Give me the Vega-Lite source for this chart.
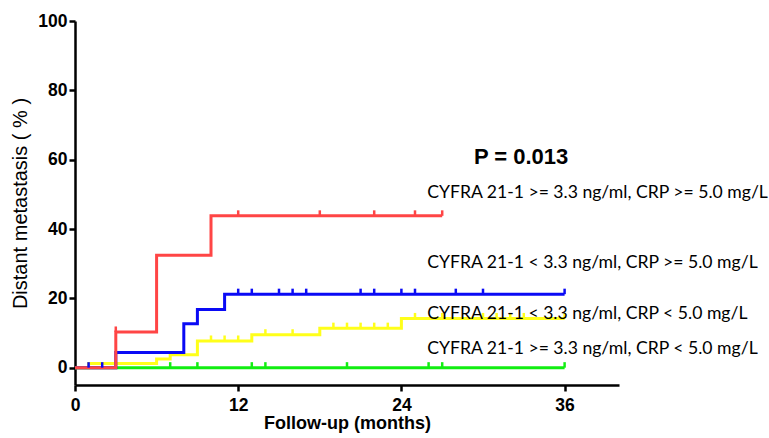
{
  "$schema": "https://vega.github.io/schema/vega-lite/v6.json",
  "width": 544,
  "height": 364,
  "autosize": {"type": "none"},
  "padding": {"left": 75, "top": 21, "right": 150, "bottom": 53},
  "background": "white",
  "config": {
    "view": {"stroke": null},
    "axis": {
      "grid": false,
      "domainColor": "black",
      "domainWidth": 2.5,
      "tickColor": "black",
      "tickWidth": 2.5,
      "tickSize": 6,
      "labelFont": "Liberation Sans",
      "labelFontWeight": "bold",
      "labelFontSize": 17.5,
      "labelColor": "black",
      "titleFont": "Liberation Sans",
      "titleColor": "black"
    }
  },
  "datasets": {
    "curves": [
      {"group": "yellow", "month": 0, "pct": 0},
      {"group": "yellow", "month": 1, "pct": 1.2},
      {"group": "yellow", "month": 6, "pct": 2.5},
      {"group": "yellow", "month": 7, "pct": 3.7},
      {"group": "yellow", "month": 9, "pct": 7.7},
      {"group": "yellow", "month": 13, "pct": 9.5},
      {"group": "yellow", "month": 18, "pct": 11.4},
      {"group": "yellow", "month": 24, "pct": 14.2},
      {"group": "yellow", "month": 36, "pct": 14.2},
      {"group": "green", "month": 0, "pct": 0},
      {"group": "green", "month": 36, "pct": 0},
      {"group": "blue", "month": 0, "pct": 0},
      {"group": "blue", "month": 3, "pct": 4.4},
      {"group": "blue", "month": 8, "pct": 12.7},
      {"group": "blue", "month": 9, "pct": 16.8},
      {"group": "blue", "month": 11, "pct": 21.2},
      {"group": "blue", "month": 36, "pct": 21.2},
      {"group": "red", "month": 0, "pct": 0},
      {"group": "red", "month": 3, "pct": 10.3},
      {"group": "red", "month": 6, "pct": 32.4},
      {"group": "red", "month": 10, "pct": 43.8},
      {"group": "red", "month": 27, "pct": 43.8}
    ],
    "censor": [
      {"group": "yellow", "month": 10, "pct": 7.7},
      {"group": "yellow", "month": 11, "pct": 7.7},
      {"group": "yellow", "month": 12, "pct": 7.7},
      {"group": "yellow", "month": 14, "pct": 9.5},
      {"group": "yellow", "month": 16, "pct": 9.5},
      {"group": "yellow", "month": 19, "pct": 11.4},
      {"group": "yellow", "month": 20, "pct": 11.4},
      {"group": "yellow", "month": 21, "pct": 11.4},
      {"group": "yellow", "month": 22, "pct": 11.4},
      {"group": "yellow", "month": 23, "pct": 11.4},
      {"group": "yellow", "month": 25, "pct": 14.2},
      {"group": "yellow", "month": 27, "pct": 14.2},
      {"group": "yellow", "month": 30, "pct": 14.2},
      {"group": "yellow", "month": 31, "pct": 14.2},
      {"group": "yellow", "month": 32, "pct": 14.2},
      {"group": "yellow", "month": 33, "pct": 14.2},
      {"group": "yellow", "month": 36, "pct": 14.2},
      {"group": "green", "month": 7, "pct": 0},
      {"group": "green", "month": 9, "pct": 0},
      {"group": "green", "month": 13, "pct": 0},
      {"group": "green", "month": 14, "pct": 0},
      {"group": "green", "month": 20, "pct": 0},
      {"group": "green", "month": 26, "pct": 0},
      {"group": "green", "month": 27, "pct": 0},
      {"group": "green", "month": 36, "pct": 0},
      {"group": "blue", "month": 1, "pct": 0},
      {"group": "blue", "month": 2, "pct": 0},
      {"group": "blue", "month": 12, "pct": 21.2},
      {"group": "blue", "month": 13, "pct": 21.2},
      {"group": "blue", "month": 15, "pct": 21.2},
      {"group": "blue", "month": 16, "pct": 21.2},
      {"group": "blue", "month": 17, "pct": 21.2},
      {"group": "blue", "month": 21, "pct": 21.2},
      {"group": "blue", "month": 22, "pct": 21.2},
      {"group": "blue", "month": 24, "pct": 21.2},
      {"group": "blue", "month": 25, "pct": 21.2},
      {"group": "blue", "month": 28, "pct": 21.2},
      {"group": "blue", "month": 30, "pct": 21.2},
      {"group": "blue", "month": 36, "pct": 21.2},
      {"group": "red", "month": 3, "pct": 10.3},
      {"group": "red", "month": 12, "pct": 43.8},
      {"group": "red", "month": 18, "pct": 43.8},
      {"group": "red", "month": 22, "pct": 43.8},
      {"group": "red", "month": 25, "pct": 43.8},
      {"group": "red", "month": 27, "pct": 43.8}
    ],
    "labels": [
      {"month": 25.9, "pct": 50.3, "text": "CYFRA 21-1 >= 3.3 ng/ml, CRP >= 5.0 mg/L"},
      {"month": 25.9, "pct": 30.1, "text": "CYFRA 21-1 < 3.3 ng/ml, CRP >= 5.0 mg/L"},
      {"month": 25.9, "pct": 15.6, "text": "CYFRA 21-1 < 3.3 ng/ml, CRP < 5.0 mg/L"},
      {"month": 25.9, "pct": 5.5, "text": "CYFRA 21-1 >= 3.3 ng/ml, CRP < 5.0 mg/L"}
    ],
    "ptext": [
      {"month": 32.8, "pct": 60.7, "text": "P = 0.013"}
    ]
  },
  "encoding": {
    "x": {
      "field": "month", "type": "quantitative",
      "scale": {"domain": [0, 40], "nice": false, "zero": false},
      "axis": {"values": [0, 12, 24, 36], "title": "Follow-up (months)", "titleFontWeight": "bold", "titleFontSize": 18, "labelPadding": 5, "titlePadding": 1, "labelFlush": false}
    },
    "y": {
      "field": "pct", "type": "quantitative",
      "scale": {"domain": [-5, 100], "nice": false, "zero": false},
      "axis": {"values": [0, 20, 40, 60, 80, 100], "title": "Distant metastasis ( % )", "titleFontWeight": "normal", "titleFontSize": 20, "labelPadding": 2, "titlePadding": 7, "labelFlush": false}
    }
  },
  "layer": [
    {
      "data": {"name": "curves"},
      "transform": [{"filter": "datum.group === 'yellow'"}],
      "mark": {"type": "line", "interpolate": "step-after", "strokeWidth": 3, "color": "#ffff1a"}
    },
    {
      "data": {"name": "curves"},
      "transform": [{"filter": "datum.group === 'green'"}],
      "mark": {"type": "line", "interpolate": "step-after", "strokeWidth": 3, "color": "#11ee11"}
    },
    {
      "data": {"name": "curves"},
      "transform": [{"filter": "datum.group === 'blue'"}],
      "mark": {"type": "line", "interpolate": "step-after", "strokeWidth": 3, "color": "#0a0af5"}
    },
    {
      "data": {"name": "curves"},
      "transform": [{"filter": "datum.group === 'red'"}],
      "mark": {"type": "line", "interpolate": "step-after", "strokeWidth": 3, "color": "#ff4545"}
    },
    {
      "data": {"name": "censor"},
      "mark": {"type": "point", "shape": "M0,-1L0,0", "size": 121, "filled": false, "strokeWidth": 2.5, "opacity": 1},
      "encoding": {
        "color": {
          "field": "group", "type": "nominal", "legend": null,
          "scale": {"domain": ["yellow", "green", "blue", "red"], "range": ["#ffff1a", "#11ee11", "#0a0af5", "#ff4545"]}
        }
      }
    },
    {
      "data": {"name": "labels"},
      "mark": {"type": "text", "align": "left", "baseline": "middle", "font": "Lato", "fontSize": 17.6, "color": "black"},
      "encoding": {"text": {"field": "text"}}
    },
    {
      "data": {"name": "ptext"},
      "mark": {"type": "text", "align": "center", "baseline": "middle", "font": "Liberation Sans", "fontWeight": "bold", "fontSize": 22, "color": "black"},
      "encoding": {"text": {"field": "text"}}
    }
  ]
}
